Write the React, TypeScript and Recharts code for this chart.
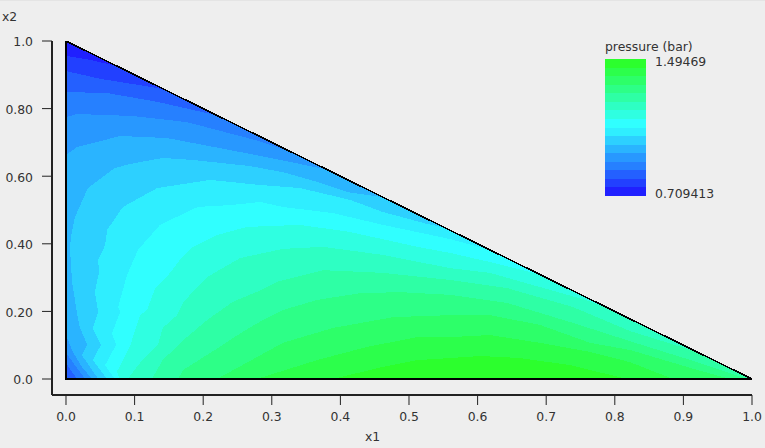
import { Area, Bar, BarChart, ComposedChart, Line, XAxis, YAxis } from "recharts";

const FONT = "'DejaVu Sans', sans-serif";
const TEXT_COLOR = "#333333";

// band colours, lowest pressure first
const bandColors = [
  "#2020ff", "#2240ff", "#2460ff", "#2680ff",
  "#2898ff", "#2ab4ff", "#2dd0ff", "#2feeff",
  "#30ffff", "#2fffe1", "#2effc3", "#2effa5",
  "#2dff87", "#2dff69", "#2cff4b", "#2cff2d",
];

const legendStep = [
  0.049, 0.049, 0.049, 0.049, 0.049, 0.049, 0.049, 0.049,
  0.049, 0.049, 0.049, 0.049, 0.049, 0.049, 0.049, 0.049,
];

const xTicks = [0, 0.1, 0.2, 0.3, 0.4, 0.5, 0.6, 0.7, 0.8, 0.9, 1];
const xTickLabels = ["0.0", "0.1", "0.2", "0.3", "0.4", "0.5", "0.6", "0.7", "0.8", "0.9", "1.0"];
const yTicks = [0, 0.2, 0.4, 0.6, 0.8, 1];
const yTickLabels = ["0.0", "0.20", "0.40", "0.60", "0.80", "1.0"];

// outline of the solution domain
const triangle = [[0, 0], [1, 0], [0, 1]];
const legs = [[1, 0], [0, 0], [0, 1]];
const hypotenuse = [[0, 1], [1, 0]];

// contour outlines. each one walks from the bottom
// edge (or left edge) round to the hypotenuse and down to (1,0)
const level1 = [[0, 0.956], [0.035, 0.944], [0.074, 0.926], [1, 0]];
const level2 = [[0, 0.911], [0.05, 0.888], [0.133, 0.861], [0.149, 0.851], [1, 0]];
const level3 = [[0.016, 0], [0, 0.047], [0, 0.849], [0.06, 0.846], [0.133, 0.82], [0.22, 0.78], [1, 0]];
const level4 = [
  [0.028, 0], [0, 0.077], [0, 0.775], [0.016, 0.784], [0.098, 0.778], [0.176, 0.76],
  [0.276, 0.707], [0.327, 0.673], [1, 0],
];
const level5 = [
  [0.038, 0], [0.023, 0.036], [0.01, 0.08], [0, 0.13], [0, 0.663], [0.016, 0.686],
  [0.079, 0.719], [0.147, 0.713], [0.276, 0.663], [0.38, 0.62], [1, 0],
];
const level6 = [
  [0.047, 0], [0.023, 0.071], [0.031, 0.101], [0.02, 0.154], [0.017, 0.183], [0.013, 0.234],
  [0.009, 0.284], [0.006, 0.382], [0.007, 0.42], [0.013, 0.479], [0.032, 0.565], [0.071, 0.624],
  [0.093, 0.636], [0.141, 0.654], [0.185, 0.648], [0.268, 0.63], [0.316, 0.612], [0.366, 0.583],
  [0.41, 0.553], [0.462, 0.538], [1, 0],
];
const level7 = [
  [0.06, 0], [0.039, 0.056], [0.051, 0.101], [0.039, 0.151], [0.047, 0.198], [0.042, 0.257],
  [0.048, 0.314], [0.047, 0.352], [0.057, 0.396], [0.06, 0.441], [0.083, 0.509], [0.133, 0.565],
  [0.162, 0.574], [0.21, 0.589], [0.283, 0.574], [0.341, 0.565], [0.414, 0.53], [0.462, 0.494],
  [0.526, 0.459], [0.552, 0.448], [1, 0],
];
const level8 = [
  [0.071, 0], [0.057, 0.041], [0.073, 0.101], [0.067, 0.136], [0.079, 0.198], [0.076, 0.213],
  [0.089, 0.308], [0.105, 0.382], [0.137, 0.456], [0.192, 0.509], [0.243, 0.515], [0.283, 0.524],
  [0.316, 0.509], [0.389, 0.491], [0.462, 0.456], [0.56, 0.414], [0.618, 0.382], [1, 0],
];
const level9 = [
  [0.079, 0], [0.074, 0.021], [0.093, 0.095], [0.108, 0.189], [0.118, 0.204], [0.13, 0.269],
  [0.147, 0.302], [0.166, 0.352], [0.185, 0.391], [0.22, 0.426], [0.264, 0.45], [0.341, 0.456],
  [0.414, 0.435], [0.512, 0.391], [0.56, 0.373], [0.618, 0.346], [0.691, 0.309], [1, 0],
];
const level10 = [
  [0.09, 0], [0.111, 0.056], [0.134, 0.101], [0.141, 0.151], [0.162, 0.189], [0.171, 0.228],
  [0.206, 0.302], [0.254, 0.358], [0.316, 0.385], [0.375, 0.391], [0.462, 0.367], [0.56, 0.328],
  [0.618, 0.314], [0.691, 0.272], [0.757, 0.234], [0.793, 0.207], [1, 0],
];
const level11 = [
  [0.125, 0], [0.141, 0.056], [0.171, 0.115], [0.206, 0.175], [0.243, 0.228], [0.283, 0.262],
  [0.308, 0.288], [0.375, 0.322], [0.462, 0.314], [0.56, 0.293], [0.643, 0.269], [0.739, 0.213],
  [0.822, 0.142], [0.92, 0.08], [0.99, 0.01], [1, 0],
];
const level12 = [
  [0.163, 0], [0.171, 0.027], [0.224, 0.095], [0.254, 0.135], [0.283, 0.17], [0.316, 0.204],
  [0.366, 0.234], [0.429, 0.254], [0.487, 0.257], [0.56, 0.249], [0.643, 0.225], [0.739, 0.166],
  [0.822, 0.112], [0.92, 0.05], [0.993, 0],
];
const level13 = [
  [0.22, 0], [0.283, 0.07], [0.316, 0.107], [0.389, 0.151], [0.477, 0.183], [0.56, 0.189],
  [0.618, 0.189], [0.691, 0.16], [0.764, 0.107], [0.822, 0.086], [0.92, 0.027], [0.968, 0],
];
const level14 = [
  [0.278, 0], [0.366, 0.056], [0.439, 0.095], [0.512, 0.124], [0.56, 0.124], [0.618, 0.13],
  [0.691, 0.107], [0.764, 0.08], [0.822, 0.05], [0.885, 0],
];
const level15 = [
  [0.389, 0], [0.462, 0.036], [0.512, 0.056], [0.56, 0.062], [0.604, 0.068], [0.662, 0.062],
  [0.735, 0.041], [0.818, 0],
];

const levels = [
  triangle, level1, level2, level3, level4, level5, level6, level7,
  level8, level9, level10, level11, level12, level13, level14, level15,
];

const toRows = (points: number[][]) => points.map(([x, y]) => ({ x, y }));

const legendRow = [
  Object.fromEntries(legendStep.map((v, i) => [`b${i}`, v])),
];

function Caption({ x, y, text }: { x: number; y: number; text: string }) {
  return (
    <span
      style={{
        position: "absolute",
        left: x,
        top: y,
        font: `12.4px ${FONT}`,
        color: TEXT_COLOR,
        lineHeight: "14px",
        whiteSpace: "nowrap",
      }}
    >
      {text}
    </span>
  );
}

export default function App() {
  const tickStyle = { fontSize: 12.4, fontFamily: FONT, fill: TEXT_COLOR };
  return (
    <div
      style={{
        position: "fixed",
        left: 0,
        top: 0,
        width: 765,
        height: 448,
        background: "#eeeeee",
        borderTop: "1px solid #e4e4e4",
        boxSizing: "border-box",
        overflow: "hidden",
      }}
    >
      <div style={{ position: "absolute", left: 0, top: -1 }}>
        <ComposedChart width={765} height={448} margin={{ top: 41, right: 13, bottom: 0, left: 0 }}>
          <XAxis
            dataKey="x"
            type="number"
            domain={[-0.0204, 1]}
            allowDataOverflow
            ticks={xTicks}
            interval={0}
            tickFormatter={(v: number) => xTickLabels[xTicks.indexOf(v)]}
            tick={tickStyle}
            tickSize={10}
            tickMargin={7}
            stroke="#222222"
            height={53}
            axisLine={{ stroke: "#222222", strokeWidth: 2 }}
            tickLine={{ stroke: "#222222", strokeWidth: 1 }}
          />
          <YAxis
            type="number"
            domain={[-0.0473, 1]}
            allowDataOverflow
            ticks={yTicks}
            interval={0}
            tickFormatter={(v: number) => yTickLabels[yTicks.indexOf(v)]}
            tick={{ ...tickStyle, dy: 1 }}
            tickSize={10}
            tickMargin={9}
            stroke="#222222"
            width={52}
            axisLine={{ stroke: "#222222", strokeWidth: 2 }}
            tickLine={{ stroke: "#222222", strokeWidth: 1 }}
          />
          {levels.map((points, i) => (
            <Area
              key={i}
              data={toRows(points)}
              dataKey="y"
              type="linear"
              baseValue={0}
              fill={bandColors[i]}
              fillOpacity={1}
              stroke="none"
              dot={false}
              activeDot={false}
              isAnimationActive={false}
              shapeRendering="crispEdges"
            />
          ))}
          <Line
            data={toRows(legs)}
            dataKey="y"
            type="linear"
            stroke="#000000"
            strokeWidth={2}
            dot={false}
            activeDot={false}
            isAnimationActive={false}
          />
          <Line
            data={toRows(hypotenuse)}
            dataKey="y"
            type="linear"
            stroke="#000000"
            strokeWidth={1.6}
            dot={false}
            activeDot={false}
            isAnimationActive={false}
            shapeRendering="crispEdges"
          />
        </ComposedChart>
      </div>

      <div style={{ position: "absolute", left: 605, top: 58 }}>
        <BarChart
          width={41}
          height={137}
          data={legendRow}
          margin={{ top: 0, right: 0, bottom: 0, left: 0 }}
          barCategoryGap={0}
        >
          <XAxis hide type="category" />
          <YAxis hide type="number" domain={[0, 0.784]} />
          {bandColors.map((c, i) => (
            <Bar
              key={i}
              dataKey={`b${i}`}
              stackId="legend"
              fill={c}
              isAnimationActive={false}
              shapeRendering="crispEdges"
            />
          ))}
        </BarChart>
      </div>

      <Caption x={2} y={9} text="x2" />
      <Caption x={365} y={429} text="x1" />
      <Caption x={605} y={39} text="pressure (bar)" />
      <Caption x={655} y={54} text="1.49469" />
      <Caption x={655} y={186} text="0.709413" />
    </div>
  );
}
